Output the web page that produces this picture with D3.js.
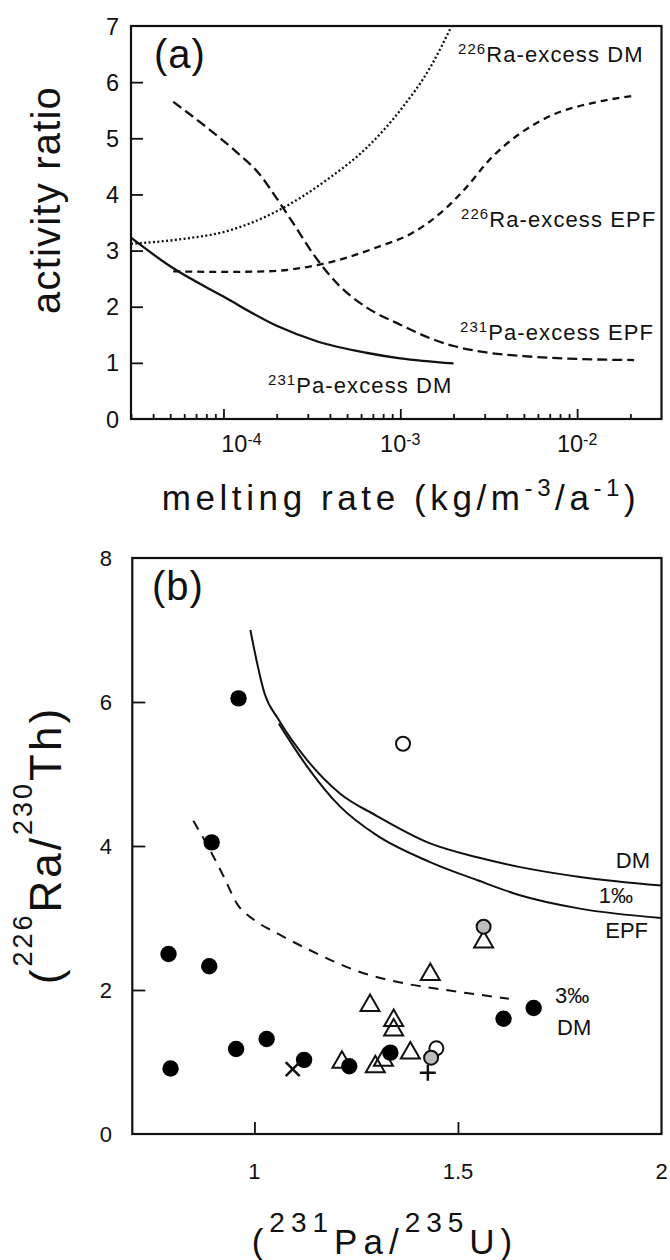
<!DOCTYPE html>
<html><head><meta charset="utf-8">
<script src="https://cdn.jsdelivr.net/npm/d3@7"></script>
<style>
body{margin:0;background:#fff}
svg{display:block}
text{font-family:"Liberation Sans",Arial,Helvetica,sans-serif;fill:#111}
</style></head><body>
<svg id="fig" width="670" height="1260"></svg>
<script>
// ---- Panel (a): activity ratio vs melting rate (log axis) ----
const paExcessDM  = [[3e-5,3.23],[5e-5,2.72],[1e-4,2.18],[2e-4,1.66],[3.4e-4,1.38],[6.4e-4,1.18],[1e-3,1.08],[2e-3,0.99]];
const raExcessDM  = [[3e-5,3.12],[6e-5,3.21],[1e-4,3.33],[2e-4,3.70],[4e-4,4.30],[6.4e-4,4.82],[1e-3,5.50],[1.5e-3,6.30],[1.95e-3,7.0]];
const paExcessEPF = [[5.2e-5,5.65],[8e-5,5.20],[1.2e-4,4.74],[1.6e-4,4.36],[2e-4,3.93],[2.5e-4,3.47],[3.2e-4,2.95],[4.5e-4,2.38],[6.5e-4,1.98],[1e-3,1.68],[1.5e-3,1.43],[2e-3,1.30],[3e-3,1.19],[5e-3,1.12],[1e-2,1.07],[2.1e-2,1.05]];
const raExcessEPF = [[5.2e-5,2.63],[1e-4,2.62],[1.75e-4,2.63],[3.5e-4,2.75],[7.7e-4,3.08],[1.18e-3,3.32],[1.82e-3,3.76],[2.37e-3,4.13],[3.2e-3,4.62],[4.73e-3,5.08],[7.3e-3,5.42],[1.23e-2,5.63],[2.1e-2,5.76]];
const xMajorA = [1e-4,1e-3,1e-2];
const xMajorExp = ["-4","-3","-2"];
const yTicksA = [0,1,2,3,4,5,6,7];

// ---- Panel (b): (226Ra/230Th) vs (231Pa/235U) ----
const curveDM  = [[0.99,7.0],[1.026,6.1],[1.06,5.75],[1.13,5.19],[1.21,4.73],[1.3,4.42],[1.43,4.04],[1.55,3.84],[1.65,3.71],[1.8,3.57],[2.0,3.45]];
const curveEPF = [[1.06,5.7],[1.13,5.1],[1.21,4.55],[1.3,4.15],[1.43,3.78],[1.55,3.52],[1.65,3.32],[1.8,3.13],[2.0,3.0]];
const curve3DM = [[0.85,4.35],[0.895,3.9],[0.925,3.57],[0.957,3.2],[1.0,2.97],[1.055,2.79],[1.13,2.57],[1.27,2.23],[1.37,2.09],[1.47,2.0],[1.625,1.88]];
const filledPts = [[0.961,6.05],[0.895,4.05],[0.789,2.50],[0.889,2.33],[0.794,0.91],[0.955,1.18],[1.030,1.32],[1.122,1.03],[1.233,0.94],[1.334,1.13],[1.612,1.60],[1.686,1.75]];
const trianglePts = [[1.215,1.03],[1.297,0.97],[1.317,1.06],[1.383,1.16],[1.284,1.82],[1.342,1.61],[1.342,1.48],[1.432,2.25],[1.563,2.70]];
const openPts = [[1.365,5.42],[1.447,1.19]];
const grayPts = [[1.563,2.88],[1.434,1.06]];
const crossPts = [[1.094,0.90]];
const plusPts = [[1.426,0.85]];
const xTicksB = [1,1.5,2];
const yTicksB = [0,2,4,6,8];

const svg = d3.select("#fig");
svg.append("rect").attr("width",670).attr("height",1260).attr("fill","#fff");
const ink = "#111";
const styleTicks = g => { g.select(".domain").remove(); g.selectAll("line").attr("stroke",ink).attr("stroke-width",1.8); };

// ===== Panel (a) =====
const xA = d3.scaleLog().domain([3e-5,3e-2]).range([131,661.5]);
const yA = d3.scaleLinear().domain([0,7]).range([419,26]);
const gA = svg.append("g");

const lineA = d3.line().x(d=>xA(d[0])).y(d=>yA(d[1])).curve(d3.curveMonotoneX);
gA.append("path").datum(paExcessDM).attr("d",lineA).attr("fill","none").attr("stroke",ink).attr("stroke-width",2.3);
gA.append("path").datum(raExcessDM).attr("d",lineA).attr("fill","none").attr("stroke",ink).attr("stroke-width",2.3).attr("stroke-dasharray","2,2.4");
gA.append("path").datum(paExcessEPF).attr("d",lineA).attr("fill","none").attr("stroke",ink).attr("stroke-width",2.3).attr("stroke-dasharray","10,5");
gA.append("path").datum(raExcessEPF).attr("d",lineA).attr("fill","none").attr("stroke",ink).attr("stroke-width",2.3).attr("stroke-dasharray","7,5");

// inward ticks: log minors, decade majors, y units
const minorA = [];
for (let e=-5;e<=-2;e++) for (let m=2;m<=9;m++){const v=m*Math.pow(10,e); if(v>3e-5 && v<3e-2) minorA.push(v);}
gA.append("g").attr("transform","translate(0,419)")
  .call(d3.axisBottom(xA).tickValues(minorA).tickSize(-5).tickFormat("")).call(styleTicks);
gA.append("g").attr("transform","translate(0,419)")
  .call(d3.axisBottom(xA).tickValues(xMajorA).tickSize(-10).tickFormat("")).call(styleTicks);
gA.append("g").attr("transform","translate(131,0)")
  .call(d3.axisLeft(yA).tickValues(yTicksA.slice(1,-1)).tickSize(-12).tickFormat("")).call(styleTicks);

gA.append("rect").attr("x",131).attr("y",26).attr("width",530.5).attr("height",393)
  .attr("fill","none").attr("stroke",ink).attr("stroke-width",2.2);

gA.selectAll("text.yl").data(yTicksA).join("text").attr("class","yl")
  .attr("x",119).attr("y",d=>yA(d)+8.5).attr("text-anchor","end").attr("font-size",23.5).text(d=>d);

xMajorA.forEach((v,i)=>{
  const t = gA.append("text").attr("x",xA(v)+(i===0?18:0)).attr("y",452).attr("text-anchor","middle").attr("font-size",23.5);
  t.append("tspan").text("10");
  t.append("tspan").attr("dy",-7).attr("font-size",16).text(xMajorExp[i]);
});

gA.append("text").attr("transform","translate(60,200) rotate(-90)").attr("text-anchor","middle")
  .attr("font-size",40).attr("letter-spacing",1.2).text("activity ratio");
{
  const t = gA.append("text").attr("x",401).attr("y",510).attr("text-anchor","middle").attr("font-size",35).attr("letter-spacing",4.6);
  t.append("tspan").text("melting rate (kg/m");
  t.append("tspan").attr("dy",-14).attr("font-size",24).text("-3");
  t.append("tspan").attr("dy",14).text("/a");
  t.append("tspan").attr("dy",-14).attr("font-size",24).text("-1");
  t.append("tspan").attr("dy",14).text(")");
}
gA.append("text").attr("x",154).attr("y",68).attr("font-size",40).attr("letter-spacing",1).text("(a)");

function isoLabel(g,x,y,mass,rest,fs){
  const t = g.append("text").attr("x",x).attr("y",y).attr("font-size",fs).attr("letter-spacing",1.1);
  t.append("tspan").attr("dy",-8).attr("font-size",fs*0.68).text(mass);
  t.append("tspan").attr("dy",8).text(rest);
}
isoLabel(gA,458,62,"226","Ra-excess DM",22);
isoLabel(gA,461,227,"226","Ra-excess EPF",22);
isoLabel(gA,460,340,"231","Pa-excess EPF",22);
isoLabel(gA,268,393,"231","Pa-excess DM",22);

// ===== Panel (b) =====
const xB = d3.scaleLinear().domain([0.7,2]).range([132.3,661.5]);
const yB = d3.scaleLinear().domain([0,8]).range([1134,558]);
const gB = svg.append("g");

const lineB = d3.line().x(d=>xB(d[0])).y(d=>yB(d[1])).curve(d3.curveMonotoneX);
gB.append("path").datum(curveDM).attr("d",lineB).attr("fill","none").attr("stroke",ink).attr("stroke-width",2);
gB.append("path").datum(curveEPF).attr("d",lineB).attr("fill","none").attr("stroke",ink).attr("stroke-width",2);
gB.append("path").datum(curve3DM).attr("d",lineB).attr("fill","none").attr("stroke",ink).attr("stroke-width",2).attr("stroke-dasharray","10,8");

gB.append("g").attr("transform","translate(0,1134)")
  .call(d3.axisBottom(xB).tickValues(xTicksB.slice(0,-1)).tickSize(-12).tickFormat("")).call(styleTicks);
gB.append("g").attr("transform","translate(132.3,0)")
  .call(d3.axisLeft(yB).tickValues(yTicksB.slice(1,-1)).tickSize(-13).tickFormat("")).call(styleTicks);
gB.append("rect").attr("x",132.3).attr("y",558).attr("width",529.2).attr("height",576)
  .attr("fill","none").attr("stroke",ink).attr("stroke-width",2.2);

gB.selectAll("text.yl").data(yTicksB).join("text").attr("class","yl")
  .attr("x",112).attr("y",d=>yB(d)+8).attr("text-anchor","end").attr("font-size",22).text(d=>d);
gB.selectAll("text.xl").data(xTicksB).join("text").attr("class","xl")
  .attr("x",d=>xB(d)).attr("y",1179).attr("text-anchor","middle").attr("font-size",22).text(d=>d);

// markers: open triangles under the circles
gB.selectAll("path.tri").data(trianglePts).join("path").attr("class","tri")
  .attr("transform",d=>`translate(${xB(d[0])},${yB(d[1])})`)
  .attr("d","M0,-8.5L9.5,8L-9.5,8Z").attr("fill","none").attr("stroke",ink).attr("stroke-width",2);
gB.selectAll("circle.fill").data(filledPts).join("circle").attr("class","fill")
  .attr("cx",d=>xB(d[0])).attr("cy",d=>yB(d[1])).attr("r",8.2).attr("fill","#000");
gB.selectAll("circle.open").data(openPts).join("circle").attr("class","open")
  .attr("cx",d=>xB(d[0])).attr("cy",d=>yB(d[1])).attr("r",7).attr("fill","none").attr("stroke",ink).attr("stroke-width",2);
gB.selectAll("circle.gray").data(grayPts).join("circle").attr("class","gray")
  .attr("cx",d=>xB(d[0])).attr("cy",d=>yB(d[1])).attr("r",7).attr("fill","#bdbdbd").attr("stroke",ink).attr("stroke-width",2);
gB.selectAll("path.cross").data(crossPts).join("path").attr("class","cross")
  .attr("transform",d=>`translate(${xB(d[0])},${yB(d[1])})`)
  .attr("d","M-7,-7L7,7M-7,7L7,-7").attr("stroke",ink).attr("stroke-width",2.5);
gB.selectAll("path.plus").data(plusPts).join("path").attr("class","plus")
  .attr("transform",d=>`translate(${xB(d[0])},${yB(d[1])})`)
  .attr("d","M-8,0L8,0M0,-8L0,8").attr("stroke",ink).attr("stroke-width",2.5);

const lab = (x,y,s,anchor)=>gB.append("text").attr("x",x).attr("y",y).attr("text-anchor",anchor).attr("font-size",22).text(s);
lab(650,868,"DM","end");
lab(633,903,"1‰","end");
lab(648,938,"EPF","end");
lab(555,1003,"3‰","start");
lab(557,1035,"DM","start");

gB.append("text").attr("x",152).attr("y",600).attr("font-size",40).attr("letter-spacing",1).text("(b)");

{
  const t = gB.append("text").attr("transform","translate(61,845) rotate(-90)").attr("text-anchor","middle")
    .attr("font-size",44).attr("letter-spacing",3);
  t.append("tspan").text("(");
  t.append("tspan").attr("dy",-29).attr("font-size",27).text("226");
  t.append("tspan").attr("dy",29).text("Ra/");
  t.append("tspan").attr("dy",-29).attr("font-size",27).text("230");
  t.append("tspan").attr("dy",29).text("Th)");
}
{
  const t = gB.append("text").attr("x",385).attr("y",1254).attr("text-anchor","middle")
    .attr("font-size",35).attr("letter-spacing",6);
  t.append("tspan").text("(");
  t.append("tspan").attr("dy",-22).attr("font-size",28).text("231");
  t.append("tspan").attr("dy",22).text("Pa/");
  t.append("tspan").attr("dy",-22).attr("font-size",28).text("235");
  t.append("tspan").attr("dy",22).text("U)");
}
</script>
</body></html>
